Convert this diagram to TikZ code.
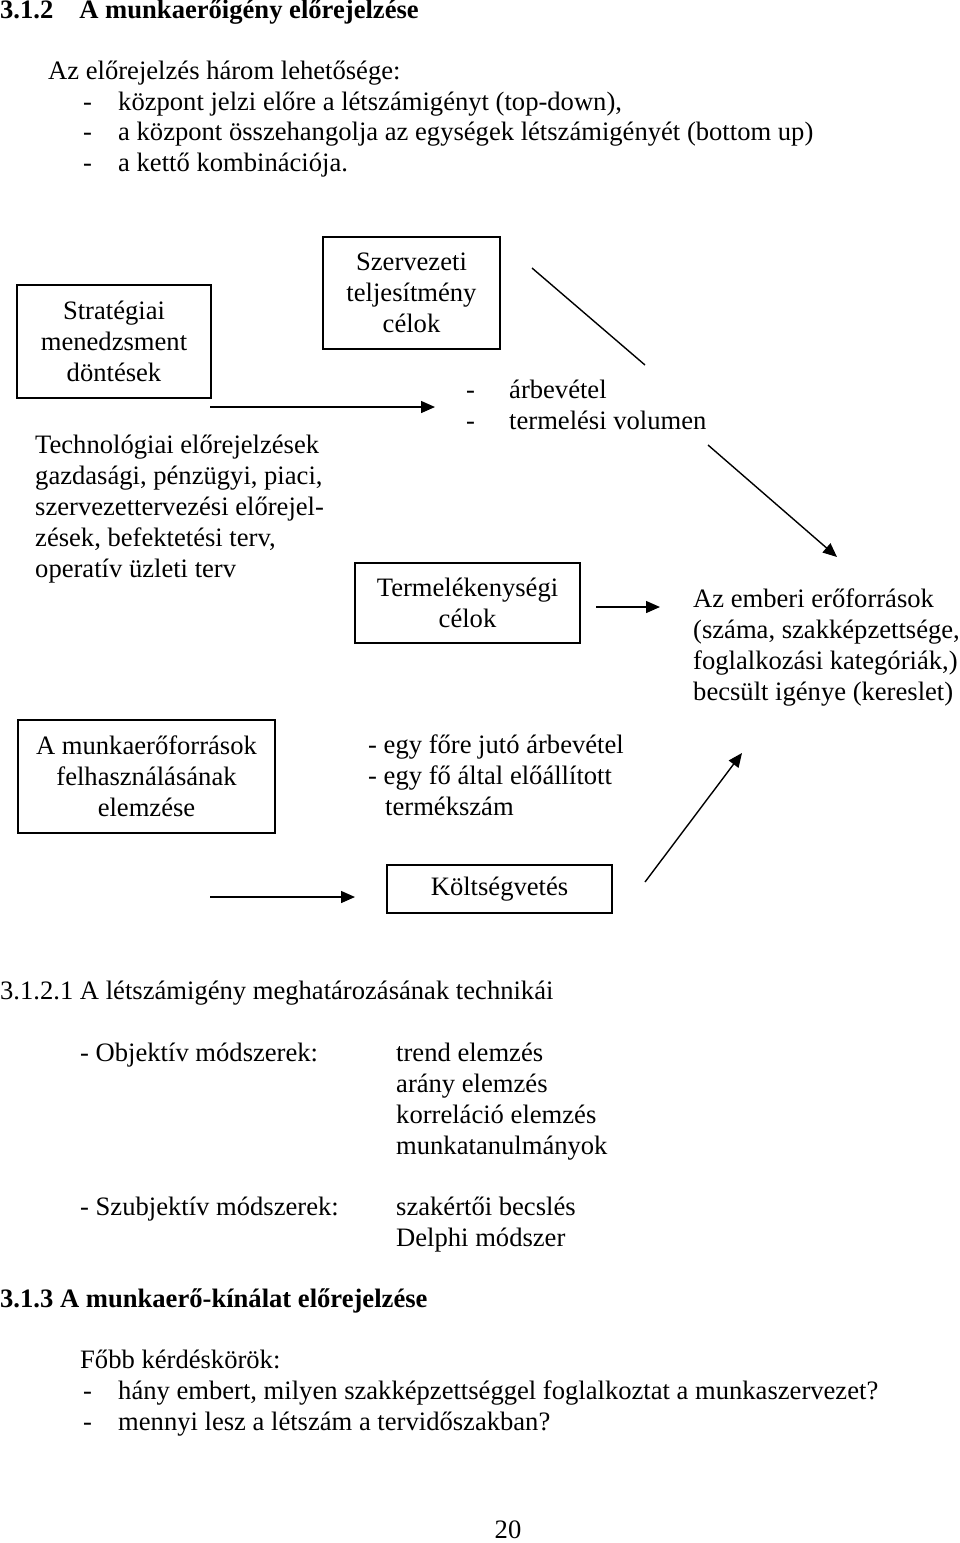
\documentclass[tikz,border=0pt]{standalone}
\usepackage{fontspec}
\setmainfont{Liberation Serif}
\usetikzlibrary{arrows.meta}

\newcommand{\bodyfont}{\fontsize{26.6pt}{31pt}\selectfont}

\tikzset{
  box/.style={draw, line width=1.4pt, align=center, inner sep=0pt},
  txt/.style={anchor=base west, inner sep=0pt},
  head/.style={txt, font=\bodyfont\bfseries},
  arr/.style={-{Triangle[length=14pt,width=12pt]}, line width=1.4pt},
}

\begin{document}
\begin{tikzpicture}[x=1pt, y=-1pt, font=\bodyfont]
  \useasboundingbox (0,0) rectangle (960,1543);

  % Heading and options
  \node[head] (title) at (0,18) {3.1.2\hspace{26pt}A munkaerőigény előrejelzése};
  \node[txt] (intro) at (48,79) {Az előrejelzés három lehetősége:};
  \node[txt] (dash1) at (83,110) {-};
  \node[txt] (opt1) at (118,110) {központ jelzi előre a létszámigényt (top-down),};
  \node[txt] (dash2) at (83,140) {-};
  \node[txt] (opt2) at (118,140) {a központ összehangolja az egységek létszámigényét (bottom up)};
  \node[txt] (dash3) at (83,171) {-};
  \node[txt] (opt3) at (118,171) {a kettő kombinációja.};

  % Boxes
  \node[box, minimum width=194pt, minimum height=113pt] (strat) at (114,341.5) {Stratégiai\\menedzsment\\döntések};
  \node[box, minimum width=177pt, minimum height=112pt] (szerv) at (411.5,293) {Szervezeti\\teljesítmény\\célok};
  \node[box, minimum width=225pt, minimum height=80pt] (termel) at (467.5,603) {Termelékenységi\\célok};
  \node[box, minimum width=257pt, minimum height=113pt] (munka) at (146.5,776.5) {A munkaerőforrások\\felhasználásának\\elemzése};
  \node[box, minimum width=225pt, minimum height=48pt] (kolts) at (499.5,889) {Költségvetés};

  % Free texts
  \node[txt] (arb0) at (466,398) {-};
  \node[txt] (arb) at (509,398) {árbevétel};
  \node[txt] (vol0) at (466,429) {-};
  \node[txt] (vol) at (509,429) {termelési volumen};

  \node[txt] (tech1) at (35,453) {Technológiai előrejelzések};
  \node[txt] (tech2) at (35,484) {gazdasági, pénzügyi, piaci,};
  \node[txt] (tech3) at (35,515) {szervezettervezési előrejel-};
  \node[txt] (tech4) at (35,546) {zések, befektetési terv,};
  \node[txt] (tech5) at (35,577) {operatív üzleti terv};

  \node[txt] (emb1) at (693,607) {Az emberi erőforrások};
  \node[txt] (emb2) at (693,638) {(száma, szakképzettsége,};
  \node[txt] (emb3) at (693,669) {foglalkozási kategóriák,)};
  \node[txt] (emb4) at (693,700) {becsült igénye (kereslet)};

  \node[txt] (fo1) at (368,753) {- egy főre jutó árbevétel};
  \node[txt] (fo2) at (368,784) {- egy fő által előállított};
  \node[txt] (fo3) at (385,815) {termékszám};

  % Arrows
  \coordinate (a1s) at (210,407);
  \coordinate (a1e) at (435,407);
  \coordinate (l1s) at (532,268);
  \coordinate (l1e) at (645,365);
  \coordinate (a2s) at (708,445);
  \coordinate (a2e) at (837,557);
  \coordinate (a3s) at (596,607);
  \coordinate (a3e) at (660,607);
  \coordinate (a4s) at (645,882);
  \coordinate (a4e) at (742,753);
  \coordinate (a5s) at (210,897);
  \coordinate (a5e) at (355,897);

  \draw[arr] (a1s) -- (a1e);
  \draw[line width=1.4pt] (l1s) -- (l1e);
  \draw[arr] (a2s) -- (a2e);
  \draw[arr] (a3s) -- (a3e);
  \draw[arr] (a4s) -- (a4e);
  \draw[arr] (a5s) -- (a5e);

  % Techniques
  \node[txt] (tech) at (0,999) {3.1.2.1 A létszámigény meghatározásának technikái};
  \node[txt] (obj) at (80,1061) {- Objektív módszerek:};
  \node[txt] (obj1) at (396,1061) {trend elemzés};
  \node[txt] (obj2) at (396,1092) {arány elemzés};
  \node[txt] (obj3) at (396,1123) {korreláció elemzés};
  \node[txt] (obj4) at (396,1154) {munkatanulmányok};
  \node[txt] (szub) at (80,1215) {- Szubjektív módszerek:};
  \node[txt] (szub1) at (396,1215) {szakértői becslés};
  \node[txt] (szub2) at (396,1246) {Delphi módszer};

  % Supply
  \node[head] (title2) at (0,1307) {3.1.3 A munkaerő-kínálat előrejelzése};
  \node[txt] (kerd) at (80,1368) {Főbb kérdéskörök:};
  \node[txt] (kdash1) at (83,1399) {-};
  \node[txt] (kerd1) at (118,1399) {hány embert, milyen szakképzettséggel foglalkoztat a munkaszervezet?};
  \node[txt] (kdash2) at (83,1430) {-};
  \node[txt] (kerd2) at (118,1430) {mennyi lesz a létszám a tervidőszakban?};

  \node[anchor=base, inner sep=0pt] (page) at (508,1538) {20};
\end{tikzpicture}
\end{document}
